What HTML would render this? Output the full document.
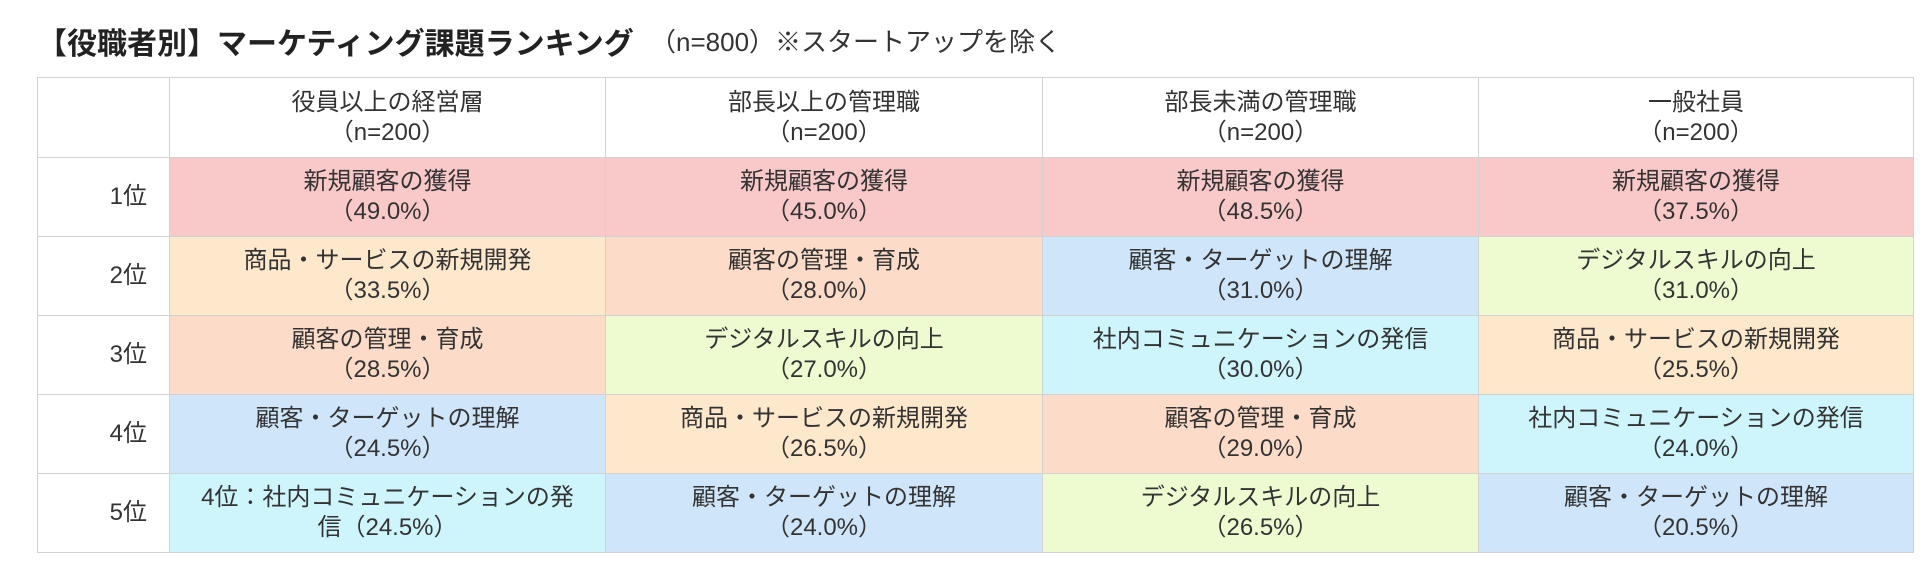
<!DOCTYPE html>
<html><head><meta charset="utf-8"><style>
html,body{margin:0;padding:0;background:#fff;width:1920px;height:580px;overflow:hidden}
body{font-family:"Liberation Sans","Noto Sans CJK JP",sans-serif;color:#333}
.title{position:absolute;left:37px;top:19px;font-size:30px;font-weight:bold;color:#222;white-space:nowrap}
.sub{position:absolute;left:650px;top:22px;font-size:26px;color:#333;white-space:nowrap}
table{position:absolute;left:37px;top:77px;border-collapse:collapse;table-layout:fixed;width:1876px}
td{border:1.5px solid #d2d2d2;text-align:center;font-size:24px;line-height:30px;height:78px;padding:0;vertical-align:middle}
tr:first-child td{height:79px}
td.r{text-align:right;padding-right:22px}
.p{background:#f9c8c8}.pe{background:#fde8cc}.s{background:#fcdcc8}.b{background:#cfe6fa}.g{background:#eefbd0}.c{background:#cdf5fb}
</style></head><body>
<div class="title">【役職者別】マーケティング課題ランキング</div>
<div class="sub">（n=800）※スタートアップを除く</div>
<table>
<colgroup><col style="width:132px"><col style="width:436px"><col style="width:437px"><col style="width:436px"><col style="width:435px"></colgroup>
<tr><td></td><td>役員以上の経営層<br>（n=200）</td><td>部長以上の管理職<br>（n=200）</td><td>部長未満の管理職<br>（n=200）</td><td>一般社員<br>（n=200）</td></tr>
<tr><td class="r">1位</td><td class="p">新規顧客の獲得<br>（49.0%）</td><td class="p">新規顧客の獲得<br>（45.0%）</td><td class="p">新規顧客の獲得<br>（48.5%）</td><td class="p">新規顧客の獲得<br>（37.5%）</td></tr>
<tr><td class="r">2位</td><td class="pe">商品・サービスの新規開発<br>（33.5%）</td><td class="s">顧客の管理・育成<br>（28.0%）</td><td class="b">顧客・ターゲットの理解<br>（31.0%）</td><td class="g">デジタルスキルの向上<br>（31.0%）</td></tr>
<tr><td class="r">3位</td><td class="s">顧客の管理・育成<br>（28.5%）</td><td class="g">デジタルスキルの向上<br>（27.0%）</td><td class="c">社内コミュニケーションの発信<br>（30.0%）</td><td class="pe">商品・サービスの新規開発<br>（25.5%）</td></tr>
<tr><td class="r">4位</td><td class="b">顧客・ターゲットの理解<br>（24.5%）</td><td class="pe">商品・サービスの新規開発<br>（26.5%）</td><td class="s">顧客の管理・育成<br>（29.0%）</td><td class="c">社内コミュニケーションの発信<br>（24.0%）</td></tr>
<tr><td class="r">5位</td><td class="c">4位：社内コミュニケーションの発<br>信（24.5%）</td><td class="b">顧客・ターゲットの理解<br>（24.0%）</td><td class="g">デジタルスキルの向上<br>（26.5%）</td><td class="b">顧客・ターゲットの理解<br>（20.5%）</td></tr>
</table>
</body></html>
